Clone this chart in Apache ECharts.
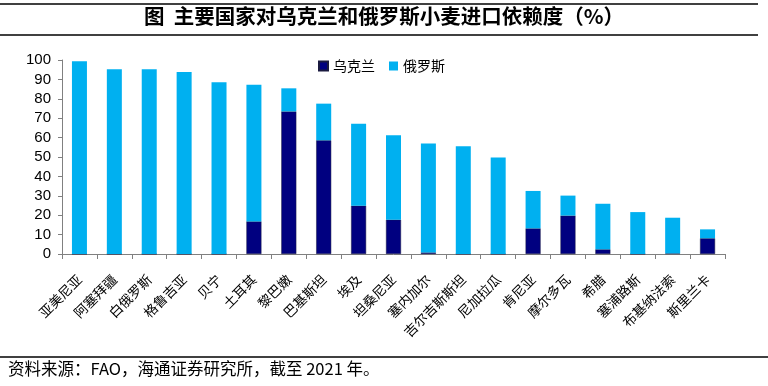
<!DOCTYPE html>
<html><head><meta charset="utf-8">
<script src="https://cdn.jsdelivr.net/npm/echarts@6/dist/echarts.min.js"></script>
<style>html,body{margin:0;padding:0;background:#fff}#c{width:768px;height:386px}</style>
</head><body><div id="c"></div>
<script>
var categories = ['亚美尼亚','阿塞拜疆','白俄罗斯','格鲁吉亚','贝宁','土耳其','黎巴嫩','巴基斯坦','埃及','坦桑尼亚','塞内加尔','吉尔吉斯斯坦','尼加拉瓜','肯尼亚','摩尔多瓦','希腊','塞浦路斯','布基纳法索','斯里兰卡'];
var ukraine = [0,0,0,0,0,16.8,73.5,58.6,24.9,17.7,0.8,0,0,13.2,19.8,2.4,0,0.3,8.1];
var russia  = [99.4,95.2,95.2,93.8,88.5,70.5,11.9,18.9,42.3,43.5,56.1,55.5,49.8,19.3,10.3,23.5,21.6,18.4,4.6];
var seriesNames = ['乌克兰','俄罗斯'];
var titleText = '图  主要国家对乌克兰和俄罗斯小麦进口依赖度（%）';
var sourceText = '资料来源：FAO，海通证券研究所，截至 2021 年。';

var chart = echarts.init(document.getElementById('c'));
var cjk = '"Noto Sans CJK SC", sans-serif';
chart.setOption({
  animation: false,
  backgroundColor: '#fff',
  graphic: [
    {type:'line', shape:{x1:0,y1:4,x2:758,y2:4}, style:{stroke:'#000',lineWidth:1.5}},
    {type:'line', shape:{x1:0,y1:35,x2:758,y2:35}, style:{stroke:'#000',lineWidth:1.5}},
    {type:'text', left:'center', top:6, style:{text:titleText, font:'600 20.5px "Noto Sans CJK SC"', fill:'#000'}},
    {type:'line', shape:{x1:0,y1:357,x2:768,y2:357}, style:{stroke:'#000',lineWidth:1.5}},
    {type:'text', left:8, top:360, style:{text:sourceText, font:'16.5px "Noto Sans CJK SC"', fill:'#000'}}
  ],
  legend: {
    data: seriesNames, left: 313, top: 54, itemWidth: 9, itemHeight: 9, itemGap: 14,
    icon: 'rect', textStyle: {fontFamily: cjk, fontSize: 14, color: '#000'}
  },
  grid: {left: 62, right: 43, top: 60, bottom: 132},
  xAxis: {
    type: 'category', data: categories,
    axisLine: {lineStyle: {color: '#808080'}},
    axisTick: {show: true, length: 5, lineStyle: {color: '#808080'}},
    axisLabel: {rotate: 45, interval: 0, fontFamily: cjk, fontSize: 13.5, color: '#000', margin: 23}
  },
  yAxis: {
    type: 'value', min: 0, max: 100, interval: 10,
    axisLine: {show: true, lineStyle: {color: '#808080'}},
    axisTick: {show: true, length: 4, lineStyle: {color: '#808080'}},
    splitLine: {show: false},
    axisLabel: {fontFamily: '"Liberation Sans", Arial, sans-serif', fontSize: 15, color: '#000', margin: 11}
  },
  series: [
    {name: seriesNames[0], type: 'bar', stack: 'a', data: ukraine, barWidth: 15,
     itemStyle: {color: '#000080', borderColor: '#1a1a40', borderWidth: 0.5}},
    {name: seriesNames[1], type: 'bar', stack: 'a', data: russia, barWidth: 15,
     itemStyle: {color: '#00B0F0'}}
  ]
});
</script></body></html>
